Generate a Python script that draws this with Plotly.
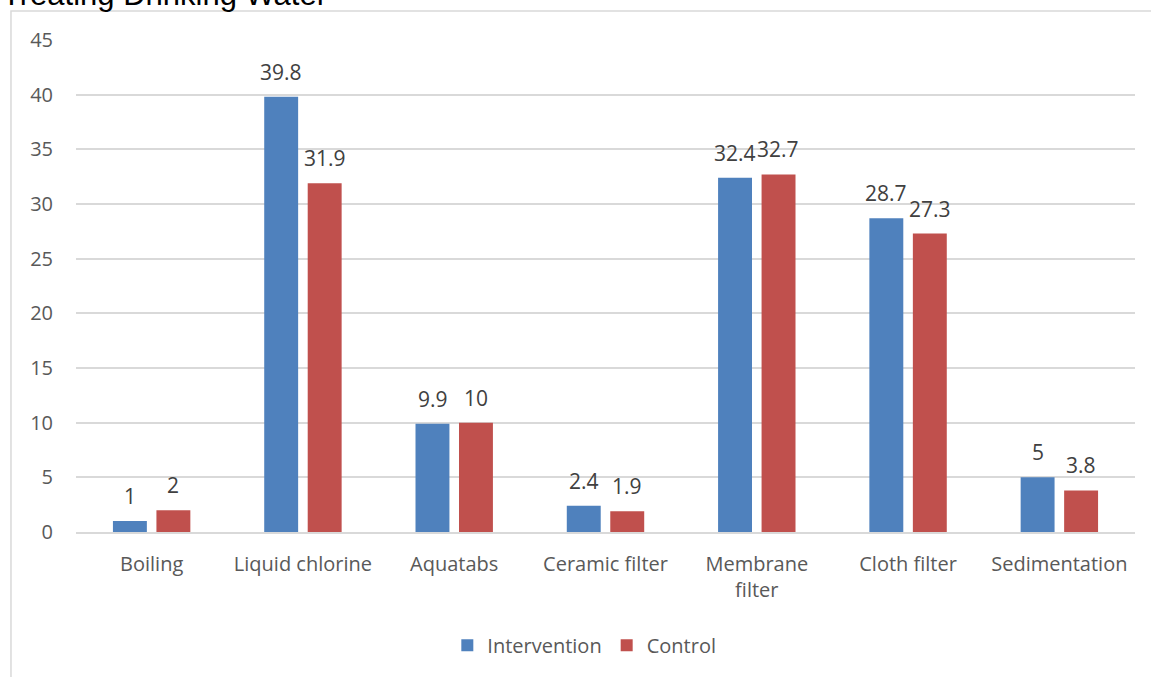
import plotly.graph_objects as go

categories = ["Boiling", "Liquid chlorine", "Aquatabs", "Ceramic filter",
              "Membrane<br>filter", "Cloth filter", "Sedimentation"]
intervention = [1, 39.8, 9.9, 2.4, 32.4, 28.7, 5]
control = [2, 31.9, 10, 1.9, 32.7, 27.3, 3.8]
y_ticks = [0, 5, 10, 15, 20, 25, 30, 35, 40, 45]

BLUE = "#4F81BD"
RED = "#C0504D"
GREY = "#595959"
FONT = "Open Sans, Noto Sans, sans-serif"
SIZE = 20

fig = go.Figure()
fig.add_trace(go.Bar(name="Intervention", x=categories, y=intervention,
                     marker=dict(color=BLUE, line=dict(width=0))))
fig.add_trace(go.Bar(name="Control", x=categories, y=control,
                     marker=dict(color=RED, line=dict(width=0))))

# value labels above each bar
for vals, shift in ((intervention, -21.7), (control, 21.7)):
    for cat, v in zip(categories, vals):
        fig.add_annotation(x=cat, y=v, text=f"{v:g}", showarrow=False,
                           xshift=shift, yshift=9, yanchor="bottom",
                           font=dict(family=FONT, size=21, color="#404040"))

# chart title
fig.add_annotation(text="Treating Drinking Water", xref="paper", yref="paper",
                   x=-0.0718, y=1.0915, xanchor="left", yanchor="middle",
                   showarrow=False,
                   font=dict(family="Liberation Sans, Arial", size=31, color="#000000"))

# chart area border
fig.add_shape(type="rect", xref="paper", yref="paper",
              x0=-0.0614, x1=1.2, y0=-0.4, y1=1.0589,
              line=dict(color="#D9D9D9", width=1.5), layer="below")

fig.update_layout(
    width=1151, height=677,
    margin=dict(l=76, r=16, t=40, b=145),
    plot_bgcolor="white", paper_bgcolor="white",
    barmode="group", bargap=0.425, bargroupgap=0.22,
    font=dict(family=FONT, size=SIZE, color=GREY),
    showlegend=True,
    legend=dict(orientation="h", x=0.48, xanchor="center",
                y=-0.23, yanchor="middle",
                font=dict(family=FONT, size=SIZE, color=GREY),
                itemsizing="constant", itemwidth=30, traceorder="normal"),
    xaxis=dict(showgrid=False, showline=True, linecolor="#D9D9D9", linewidth=1.5,
               ticks="", ticklabelstandoff=13,
               tickfont=dict(family=FONT, size=SIZE, color=GREY)),
    yaxis=dict(range=[0, 45], tickvals=y_ticks, showgrid=True,
               gridcolor="#D9D9D9", gridwidth=1.5, zeroline=False,
               showline=False, ticks="", ticklabelstandoff=22,
               tickfont=dict(family=FONT, size=SIZE, color=GREY)),
)

fig.write_html("out.html")
